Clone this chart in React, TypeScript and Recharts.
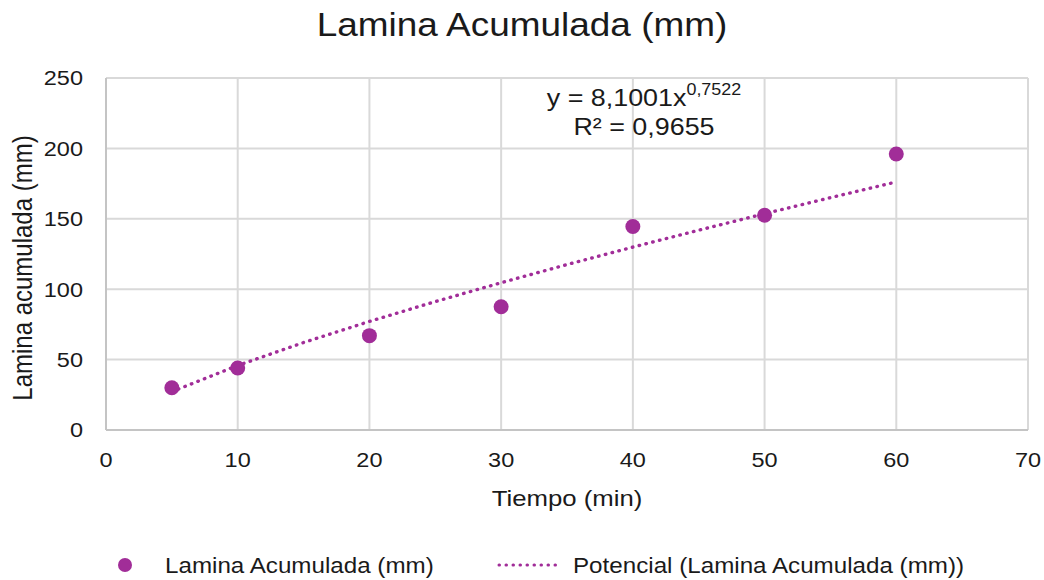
import { ScatterChart, Scatter, XAxis, YAxis, CartesianGrid } from "recharts";

// measured values
const tiempo = [5, 10, 20, 30, 40, 50, 60];
const lamina = [30, 44, 67, 87.5, 144.5, 152.5, 196];

// potential trendline
const trendTiempo = [5, 10, 15, 20, 25, 30, 35, 40, 45, 50, 55, 60];
const trendLamina = [27.2, 45.8, 62.1, 77.1, 91.2, 104.6, 117.5, 129.9, 141.9, 153.6, 165.0, 176.2];

const xTicks = [0, 10, 20, 30, 40, 50, 60, 70];
const yTicks = [0, 50, 100, 150, 200, 250];

const PURPLE = "#A12D98";
const INK = "#1a1a1a";
const FONT = '"Liberation Sans", Arial, sans-serif';
const SX = 1.12; // the reference text is slightly wide

const points = tiempo.map((t, i) => ({ x: t, y: lamina[i] }));
const trend = trendTiempo.map((t, i) => ({ x: t, y: trendLamina[i] }));

function wide(x: number, y: number) {
  return `translate(${x} ${y}) scale(${SX} 1) translate(${-x} ${-y})`;
}

function XTick(props: any) {
  const { x, y, payload } = props;
  return (
    <text x={x} y={y + 37} textAnchor="middle" fontSize={21} fill={INK} fontFamily={FONT} transform={wide(x, y)}>
      {payload.value}
    </text>
  );
}

function YTick(props: any) {
  const { x, y, payload } = props;
  const tx = x - 23;
  return (
    <text x={tx} y={y + 7.5} textAnchor="end" fontSize={21} fill={INK} fontFamily={FONT} transform={wide(tx, y)}>
      {payload.value}
    </text>
  );
}

function Dot(props: any) {
  return <circle cx={props.cx} cy={props.cy} r={7.5} fill={PURPLE} />;
}

export default function App() {
  return (
    <div style={{ position: "absolute", left: 0, top: 0, width: 1044, height: 580, background: "#fff", fontFamily: FONT }}>
      <ScatterChart width={1044} height={580} margin={{ top: 78, right: 16, bottom: 0, left: 0 }}>
        <CartesianGrid stroke="#d9d9d9" strokeWidth={2} />
        <XAxis
          type="number"
          dataKey="x"
          domain={[0, 70]}
          ticks={xTicks}
          height={150}
          tickSize={0}
          tickMargin={0}
          tickLine={false}
          axisLine={{ stroke: "#c4c4c4", strokeWidth: 2 }}
          tick={<XTick />}
        />
        <YAxis
          type="number"
          dataKey="y"
          domain={[0, 250]}
          ticks={yTicks}
          width={106}
          tickSize={0}
          tickMargin={0}
          tickLine={false}
          axisLine={{ stroke: "#c4c4c4", strokeWidth: 2 }}
          tick={<YTick />}
        />
        <Scatter
          data={trend}
          line={{ stroke: PURPLE, strokeWidth: 3.4, strokeDasharray: "0.5 6.5", strokeLinecap: "round" }}
          shape={() => <g />}
          isAnimationActive={false}
        />
        <Scatter data={points} fill={PURPLE} shape={<Dot />} isAnimationActive={false} />
      </ScatterChart>

      <svg width={1044} height={580} style={{ position: "absolute", left: 0, top: 0, pointerEvents: "none" }} fontFamily={FONT}>
        <text x={522} y={36} textAnchor="middle" fontSize={33} fill={INK} transform={wide(522, 36)}>
          Lamina Acumulada (mm)
        </text>

        <text x={644} y={106} textAnchor="middle" fontSize={24} fill={INK} transform={wide(644, 106)}>
          y = 8,1001x
          <tspan fontSize={16} dy={-11}>0,7522</tspan>
        </text>
        <text x={644} y={135} textAnchor="middle" fontSize={24} fill={INK} transform={wide(644, 135)}>
          R² = 0,9655
        </text>

        <text x={567} y={506} textAnchor="middle" fontSize={23} fill={INK} transform={wide(567, 506)}>
          Tiempo (min)
        </text>
        <text
          textAnchor="middle"
          fontSize={24}
          fill={INK}
          transform={`translate(32 268) scale(${SX} 1) rotate(-90)`}
        >
          Lamina acumulada (mm)
        </text>

        <circle cx={125} cy={565} r={7} fill={PURPLE} />
        <text x={165} y={573} fontSize={21.6} fill={INK} transform={wide(165, 573)}>
          Lamina Acumulada (mm)
        </text>
        <line
          x1={499}
          y1={565}
          x2={562}
          y2={565}
          stroke={PURPLE}
          strokeWidth={3}
          strokeDasharray="0.5 6.5"
          strokeLinecap="round"
        />
        <text x={573} y={573} fontSize={21.6} fill={INK} transform={wide(573, 573)}>
          Potencial (Lamina Acumulada (mm))
        </text>
      </svg>
    </div>
  );
}
